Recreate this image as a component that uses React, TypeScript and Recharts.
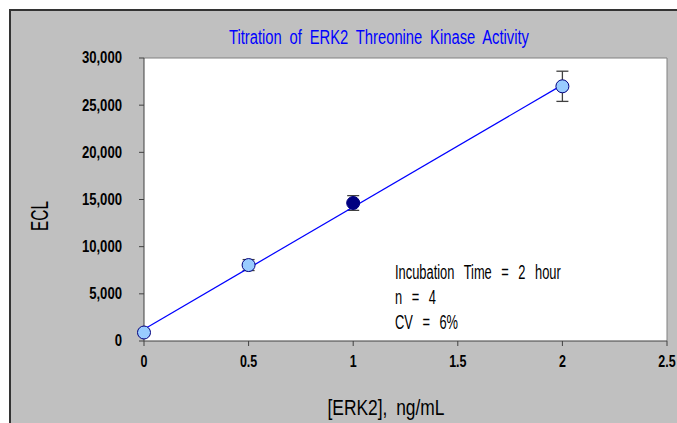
import React from 'react';
import { ScatterChart, Scatter, XAxis, YAxis, ErrorBar, ReferenceLine, CartesianGrid, Customized } from 'recharts';

const concentrations = [0, 0.5, 1, 2];
const eclValues = [900, 8050, 14630, 27000];
const eclErrors = [200, 580, 780, 1600];
const highlightedConcentration = 1;

const trendX = [0, 2];
const trendY = [1250, 27150];

const xTicks = [0, 0.5, 1, 1.5, 2, 2.5];
const yTicks = [0, 5000, 10000, 15000, 20000, 25000, 30000];

const titleText = 'Titration of ERK2 Threonine Kinase Activity';
const xLabelText = '[ERK2], ng/mL';
const yLabelText = 'ECL';
const annotationLines = ['Incubation Time = 2 hour', 'n = 4', 'CV = 6%'];

const data = concentrations.map((x, i) => ({ x, y: eclValues[i], err: eclErrors[i] }));
const trend = trendX.map((x, i) => ({ x, y: trendY[i] }));

const FONT = "'Liberation Sans', Arial, sans-serif";

const Marker = (props: any) => {
  const { cx, cy, payload } = props;
  if (cx == null || cy == null) return <g />;
  const hi = payload && payload.x === highlightedConcentration;
  return <circle cx={cx} cy={cy} r={6.5} fill={hi ? '#000080' : '#99ccff'} stroke="#000080" strokeWidth={1} />;
};

const NoShape = () => <g />;

const fmtY = (v: number) => v.toLocaleString('en-US');
const fmtX = (v: number) => String(v);

const YTick = (props: any) => {
  const { x, y, payload } = props;
  return (
    <text transform={`translate(${x},${y}) scale(0.82,1)`} textAnchor="end" dominantBaseline="central"
      fill="#000" fontSize={16} fontWeight="bold" fontFamily={FONT}>{fmtY(payload.value)}</text>
  );
};

const XTick = (props: any) => {
  const { x, y, payload } = props;
  return (
    <text transform={`translate(${x},${y + 6}) scale(0.78,1)`} textAnchor="middle" dominantBaseline="central"
      fill="#000" fontSize={16} fontWeight="bold" fontFamily={FONT}>{fmtX(payload.value)}</text>
  );
};

const Texts = () => (
  <g fontFamily={FONT}>
    <text x={368} y={26} textAnchor="middle" dominantBaseline="central" fill="#0000ff" fontSize={20}
      wordSpacing={5} textLength={300} lengthAdjust="spacingAndGlyphs">{titleText}</text>
    <text x={375} y={396} textAnchor="middle" dominantBaseline="central" fill="#000" fontSize={22}
      wordSpacing={5} textLength={117} lengthAdjust="spacingAndGlyphs">{xLabelText}</text>
    <text x={29} y={205} textAnchor="middle" dominantBaseline="central" fill="#000" fontSize={23}
      textLength={30} lengthAdjust="spacingAndGlyphs" transform="rotate(-90 29 205)">{yLabelText}</text>
    {annotationLines.map((t, i) => (
      <text key={i} transform={`translate(384,${262 + i * 25}) scale(0.66,1)`} dominantBaseline="central"
        fill="#000" fontSize={19.5} wordSpacing={9}>{t}</text>
    ))}
  </g>
);

export default function App() {
  return (
    <div style={{ position: 'absolute', left: 9, top: 9, width: 668, height: 414, boxSizing: 'border-box', borderLeft: '2px solid #333', borderTop: '2px solid #333', background: '#c0c0c0', overflow: 'hidden' }}>
      <ScatterChart width={666} height={412} margin={{ top: 47, right: 10, bottom: 52, left: 73 }}>
        <CartesianGrid horizontal={false} vertical={false} fill="#ffffff" fillOpacity={1} />
        <ReferenceLine y={30000} stroke="#808080" strokeWidth={1} />
        <ReferenceLine x={2.5} stroke="#808080" strokeWidth={1} />
        <XAxis type="number" dataKey="x" domain={[0, 2.5]} ticks={xTicks}
          stroke="#404040" tickSize={5} tickMargin={9} height={30} tick={XTick} />
        <YAxis type="number" dataKey="y" domain={[0, 30000]} ticks={yTicks}
          stroke="#404040" tickSize={5} tickMargin={17} width={60} tick={YTick} />
        <Scatter data={trend} line={{ stroke: '#0000ff', strokeWidth: 1.2 }} shape={NoShape} isAnimationActive={false} />
        <Scatter data={data} shape={Marker} isAnimationActive={false}>
          <ErrorBar dataKey="err" direction="y" width={6} stroke="#404040" strokeWidth={1.3} />
        </Scatter>
        <Customized component={Texts} />
      </ScatterChart>
    </div>
  );
}
